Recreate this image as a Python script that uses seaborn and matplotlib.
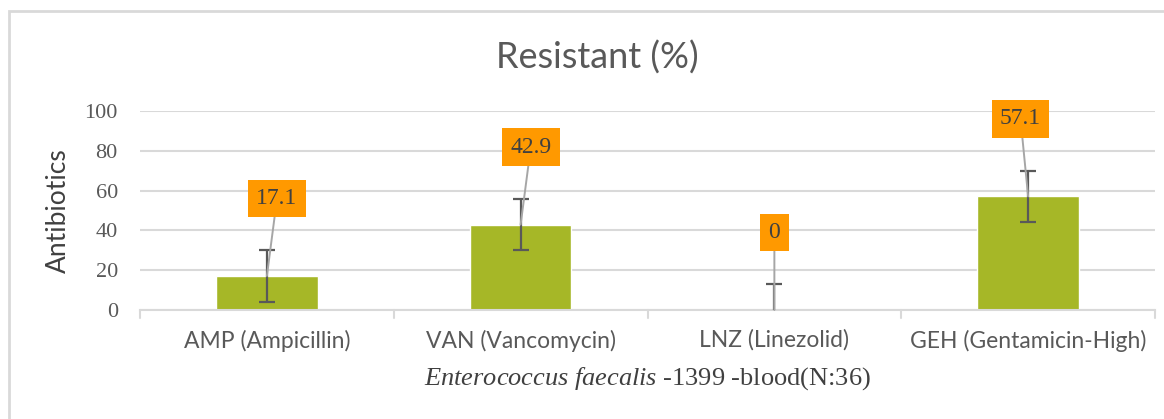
import matplotlib
matplotlib.use("Agg")
import matplotlib.pyplot as plt
import seaborn as sns
import pandas as pd
from matplotlib.patches import Rectangle

categories = ["AMP (Ampicillin)", "VAN (Vancomycin)", "LNZ (Linezolid)", "GEH (Gentamicin-High)"]
resistant = [17.1, 42.9, 0, 57.1]
error = [12.9, 12.9, 12.9, 12.9]
y_ticks = [0, 20, 40, 60, 80, 100]

sns.set_theme(style="white")
plt.rcParams["font.family"] = ["Lato", "DejaVu Sans"]
plt.rcParams["mathtext.fontset"] = "custom"
plt.rcParams["mathtext.it"] = "Liberation Serif:italic"
plt.rcParams["mathtext.rm"] = "Liberation Serif"

df = pd.DataFrame({"antibiotic": categories, "resistant": resistant})

fig = plt.figure(figsize=(11.64, 4.19), dpi=100)
ax = fig.add_axes([140 / 1164, 1 - 310 / 419, 1015 / 1164, 199 / 419])

sns.barplot(data=df, x="antibiotic", y="resistant", color="#A6B727",
            width=0.4, saturation=1, ax=ax, zorder=2, errorbar=None)

xs = list(range(len(categories)))
ax.errorbar(xs, resistant, yerr=error, fmt="none", ecolor="#595959",
            elinewidth=1.6, capsize=6, capthick=1.6, zorder=4)

# data labels in orange boxes with leader lines to the bar tops
label_dx = [0.04, 0.04, 0.0, -0.03]
for i, v in enumerate(resistant):
    ly = max(v + 39, 34)
    ax.annotate(f"{v:g}", xy=(i, v), xytext=(i + label_dx[i], ly),
                ha="center", va="center", fontsize=17,
                family="Liberation Serif", color="#404040",
                bbox=dict(boxstyle="square,pad=0.35", fc="#FF9900", ec="none"),
                arrowprops=dict(arrowstyle="-", color="#A6A6A6", lw=1.4,
                                shrinkA=0, shrinkB=0),
                zorder=5)

ax.set_ylim(0, 100)
ax.set_xlim(-0.5, len(categories) - 0.5)
ax.set_yticks(y_ticks)
ax.set_yticklabels([str(t) for t in y_ticks], family="Liberation Serif",
                   fontsize=16, color="#595959")
ax.yaxis.grid(True, color="#D9D9D9", lw=1.5, zorder=0)
ax.set_axisbelow(True)

ax.set_xticks(xs)
ax.set_xticklabels(categories, fontsize=16.5, color="#595959")
ax.tick_params(axis="x", length=0, pad=14)
ax.tick_params(axis="y", length=0, pad=16)
# boundary tick marks between categories
for b in [-0.5, 0.5, 1.5, 2.5, 3.5]:
    ax.plot([b, b], [0, -0.04], transform=ax.get_xaxis_transform(),
            color="#D9D9D9", lw=1.5, clip_on=False, zorder=1)

for s in ["top", "right", "left"]:
    ax.spines[s].set_visible(False)
ax.spines["bottom"].set_color("#D9D9D9")
ax.spines["bottom"].set_linewidth(1.5)

ax.set_ylabel("Antibiotics", fontsize=19, color="#404040", labelpad=10)
ax.set_xlabel(r"$\mathit{Enterococcus\ faecalis}$ -1399 -blood(N:36)",
              fontsize=19, color="#404040", labelpad=10,
              family="Liberation Serif")

fig.text(597 / 1164, 1 - 58 / 419, "Resistant (%)", ha="center", va="center",
         fontsize=26, color="#595959")

fig.patches.append(Rectangle((9 / 1164, -0.2), 1.2, 1.2 - 11 / 419,
                             transform=fig.transFigure, fill=False,
                             ec="#D9D9D9", lw=2, zorder=0))

fig.savefig("out.png", dpi=100, facecolor="white")
